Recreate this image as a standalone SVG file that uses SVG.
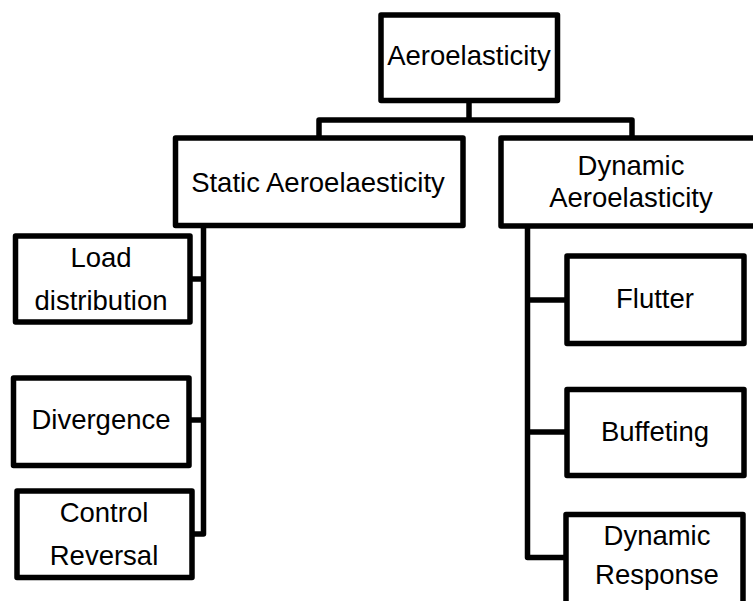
<svg xmlns="http://www.w3.org/2000/svg" width="753" height="601" viewBox="0 0 753 601">
<style>
.box{fill:#fff;stroke:#000;stroke-width:5.5;stroke-linejoin:round}
.ln{fill:none;stroke:#000;stroke-width:5.5;stroke-linejoin:round}
text{font-family:"Liberation Sans",Arial,sans-serif;font-size:27.5px;fill:#000;text-anchor:middle}
</style>
<rect width="753" height="601" fill="#fff"/>
<g id="connectors">
<path class="ln" d="M469 100 V120"/>
<path class="ln" d="M319 138 V120 H632 V138"/>
<path class="ln" d="M203.5 226 V534 H192"/>
<path class="ln" d="M190 279 H203.5"/>
<path class="ln" d="M189 420 H203.5"/>
<path class="ln" d="M527.5 226 V557.5 H566"/>
<path class="ln" d="M527.5 300 H567"/>
<path class="ln" d="M527.5 432 H567"/>
</g>
<g id="aeroelasticity">
<rect class="box" x="381" y="15" width="176.5" height="85.5"/>
<text x="469" y="65">Aeroelasticity</text>
</g>
<g id="static">
<rect class="box" x="175.5" y="138" width="287.5" height="87.5"/>
<text x="318" y="192">Static Aeroelaesticity</text>
</g>
<g id="dynamic">
<rect class="box" x="501" y="138" width="270" height="88"/>
<text x="631" y="175">Dynamic</text>
<text x="631" y="207">Aeroelasticity</text>
</g>
<g id="load">
<rect class="box" x="15.5" y="236" width="174.5" height="86"/>
<text x="101" y="266.5">Load</text>
<text x="101" y="310">distribution</text>
</g>
<g id="divergence">
<rect class="box" x="13.5" y="378" width="175.5" height="87.5"/>
<text x="101" y="429">Divergence</text>
</g>
<g id="control">
<rect class="box" x="17" y="491" width="175" height="86.5"/>
<text x="104" y="522">Control</text>
<text x="104" y="565">Reversal</text>
</g>
<g id="flutter">
<rect class="box" x="567" y="256" width="177" height="87.5"/>
<text x="655" y="308">Flutter</text>
</g>
<g id="buffeting">
<rect class="box" x="567" y="389.5" width="177" height="86"/>
<text x="655" y="441">Buffeting</text>
</g>
<g id="response">
<rect class="box" x="566" y="514.5" width="177" height="100"/>
<text x="657" y="545">Dynamic</text>
<text x="657" y="584">Response</text>
</g>
</svg>
